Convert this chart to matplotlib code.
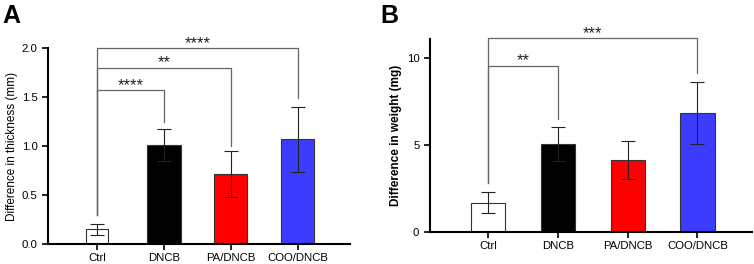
import numpy as np
import matplotlib
matplotlib.use("Agg")
import matplotlib.pyplot as plt

plt.rcParams['font.family'] = ['Liberation Sans', 'DejaVu Sans']

groups = ["Ctrl", "DNCB", "PA/DNCB", "COO/DNCB"]
colors = ["white", "black", "#ff0000", "#3c3cff"]

# panel A: thickness
thick_mean = [0.155, 1.015, 0.72, 1.07]
thick_err = [0.056, 0.165, 0.236, 0.33]
# panel B: weight
weight_mean = [1.70, 5.06, 4.14, 6.83]
weight_err = [0.60, 0.95, 1.10, 1.78]

# brackets: (group i, group j, bar height, left leg bottom, right leg bottom, text)
sig_A = [(0, 1, 1.57, 0.30, 1.25, "****"),
         (0, 2, 1.80, 0.30, 1.00, "**"),
         (0, 3, 2.00, 0.30, 1.49, "****")]
sig_B = [(0, 1, 9.54, 2.8, 6.5, "**"),
         (0, 3, 11.1, 2.8, 9.1, "***")]

fig = plt.figure(figsize=(7.54, 2.64), dpi=100)
axA = fig.add_axes([0.0637, 0.0746, 0.4003, 0.7424])
axB = fig.add_axes([0.570, 0.120, 0.428, 0.731])

x = np.arange(len(groups))


def draw(ax, mean, err, widths, sigs, ylim, yticks, ylabel, bold):
    ax.bar(x, mean, width=widths, color=colors, edgecolor="#333333", linewidth=0.8, zorder=2)
    ax.errorbar(x, mean, yerr=err, fmt="none", ecolor="#222222", elinewidth=0.8,
                capsize=5, capthick=0.8, zorder=3)
    for i, j, h, lb, rb, txt in sigs:
        ax.plot([i, i, j, j], [lb, h, h, rb], color="#666666", lw=0.9, clip_on=False, zorder=1)
        ax.annotate(txt, xy=((i + j) / 2, h), xytext=(0, 0.3), textcoords="offset points",
                    ha="center", va="baseline", fontsize=12, color="#222222",
                    annotation_clip=False)
    ax.set_ylim(*ylim)
    ax.set_yticks(yticks)
    ax.set_xticks(x)
    ax.set_xticklabels(groups)
    ax.set_ylabel(ylabel, fontsize=8.5, fontweight="bold" if bold else "normal", labelpad=3)
    for s in ["top", "right"]:
        ax.spines[s].set_visible(False)
    for s in ["left", "bottom"]:
        ax.spines[s].set_linewidth(1.5)
    ax.tick_params(axis="both", labelsize=8.2, width=1.2, length=4)
    ax.tick_params(axis="x", pad=2)


draw(axA, thick_mean, thick_err, [0.34, 0.5, 0.5, 0.5], sig_A, (0, 2.0),
     [0.0, 0.5, 1.0, 1.5, 2.0], "Difference in thickness (mm)", False)
axA.set_yticklabels(["0.0", "0.5", "1.0", "1.5", "2.0"])
axA.set_xlim(-0.73, 3.78)

draw(axB, weight_mean, weight_err, 0.49, sig_B, (0, 11.05),
     [0, 5, 10], "Difference in weight (mg)", True)
axB.set_xlim(-0.84, 3.79)

fig.text(0.003, 0.985, "A", fontsize=18, fontweight="bold", va="top", ha="left")
fig.text(0.505, 0.985, "B", fontsize=18, fontweight="bold", va="top", ha="left")

fig.savefig("out.png", dpi=100)
